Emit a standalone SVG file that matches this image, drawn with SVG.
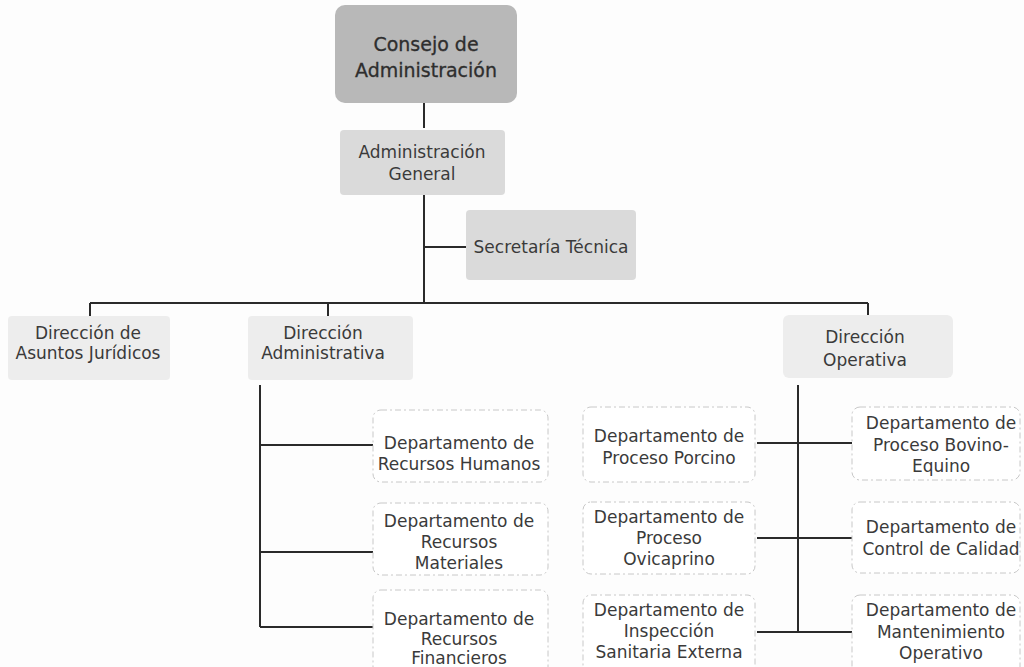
<svg xmlns="http://www.w3.org/2000/svg" width="1024" height="667" viewBox="0 0 1024 667">
<defs>
<style>
.t{font-family:"DejaVu Sans","Liberation Sans",sans-serif;font-size:17px;fill:#3a3a3a;text-anchor:middle}
.big{font-size:19px;fill:#2e2e2e;stroke:#2e2e2e;stroke-width:0.3}
.c{stroke:#2a2a2a;stroke-width:2;fill:none}
.dept{fill:#fff;stroke:#c8c8c8;stroke-width:1;stroke-dasharray:6 3 2 3}
.dir{fill:#ededed}
.gen{fill:#dadada}
.top{fill:#b8b8b8}
</style>
</defs>
<rect width="1024" height="667" fill="#fdfdfd"/>
<g id="connectors">
<path class="c" d="M424 103V128M424 195V303M424 247H466M90 303H868M90 303V316M328 303V316M868 303V315"/>
<path class="c" d="M260 385V627M260 445H373M260 552H373M260 627H373"/>
<path class="c" d="M798 385V632M757 443H852M757 538H852M757 632H852"/>
</g>
<g id="consejo">
<rect class="top" x="335" y="5" width="182" height="98" rx="10"/>
<text class="t big" x="426" y="51">Consejo de</text>
<text class="t big" x="426" y="77">Administración</text>
</g>
<g id="admin-general">
<rect class="gen" x="340" y="130" width="165" height="65" rx="4"/>
<text class="t" x="422" y="158">Administración</text>
<text class="t" x="422" y="180">General</text>
</g>
<g id="secretaria">
<rect class="gen" x="466" y="210" width="170" height="70" rx="4"/>
<text class="t" x="551" y="253">Secretaría Técnica</text>
</g>
<g id="dir-juridicos">
<rect class="dir" x="8" y="316" width="162" height="64" rx="4"/>
<text class="t" x="88" y="339">Dirección de</text>
<text class="t" x="88" y="359">Asuntos Jurídicos</text>
</g>
<g id="dir-administrativa">
<rect class="dir" x="248" y="316" width="165" height="64" rx="4"/>
<text class="t" x="323" y="339">Dirección</text>
<text class="t" x="323" y="359">Administrativa</text>
</g>
<g id="dir-operativa">
<rect class="dir" x="783" y="315" width="170" height="63" rx="6"/>
<text class="t" x="865" y="343">Dirección</text>
<text class="t" x="865" y="366">Operativa</text>
</g>
<g id="dep-rh">
<rect class="dept" x="373" y="410" width="175" height="72" rx="8"/>
<text class="t" x="459" y="449">Departamento de</text>
<text class="t" x="459" y="470">Recursos Humanos</text>
</g>
<g id="dep-rm">
<rect class="dept" x="373" y="503" width="175" height="72" rx="8"/>
<text class="t" x="459" y="527">Departamento de</text>
<text class="t" x="459" y="548">Recursos</text>
<text class="t" x="459" y="569">Materiales</text>
</g>
<g id="dep-rf">
<rect class="dept" x="373" y="590" width="175" height="85" rx="8"/>
<text class="t" x="459" y="625">Departamento de</text>
<text class="t" x="459" y="645">Recursos</text>
<text class="t" x="459" y="664">Financieros</text>
</g>
<g id="dep-porcino">
<rect class="dept" x="583" y="407" width="172" height="75" rx="8"/>
<text class="t" x="669" y="442">Departamento de</text>
<text class="t" x="669" y="464">Proceso Porcino</text>
</g>
<g id="dep-ovicaprino">
<rect class="dept" x="583" y="502" width="172" height="72" rx="8"/>
<text class="t" x="669" y="523">Departamento de</text>
<text class="t" x="669" y="544">Proceso</text>
<text class="t" x="669" y="565">Ovicaprino</text>
</g>
<g id="dep-inspeccion">
<rect class="dept" x="583" y="595" width="172" height="80" rx="8"/>
<text class="t" x="669" y="616">Departamento de</text>
<text class="t" x="669" y="637">Inspección</text>
<text class="t" x="669" y="658">Sanitaria Externa</text>
</g>
<g id="dep-bovino">
<rect class="dept" x="852" y="407" width="168" height="73" rx="8"/>
<text class="t" x="941" y="429">Departamento de</text>
<text class="t" x="941" y="451">Proceso Bovino-</text>
<text class="t" x="941" y="472">Equino</text>
</g>
<g id="dep-calidad">
<rect class="dept" x="852" y="502" width="168" height="71" rx="8"/>
<text class="t" x="941" y="533">Departamento de</text>
<text class="t" x="941" y="555">Control de Calidad</text>
</g>
<g id="dep-mantenimiento">
<rect class="dept" x="852" y="595" width="168" height="80" rx="8"/>
<text class="t" x="941" y="616">Departamento de</text>
<text class="t" x="941" y="638">Mantenimiento</text>
<text class="t" x="941" y="659">Operativo</text>
</g>
</svg>
